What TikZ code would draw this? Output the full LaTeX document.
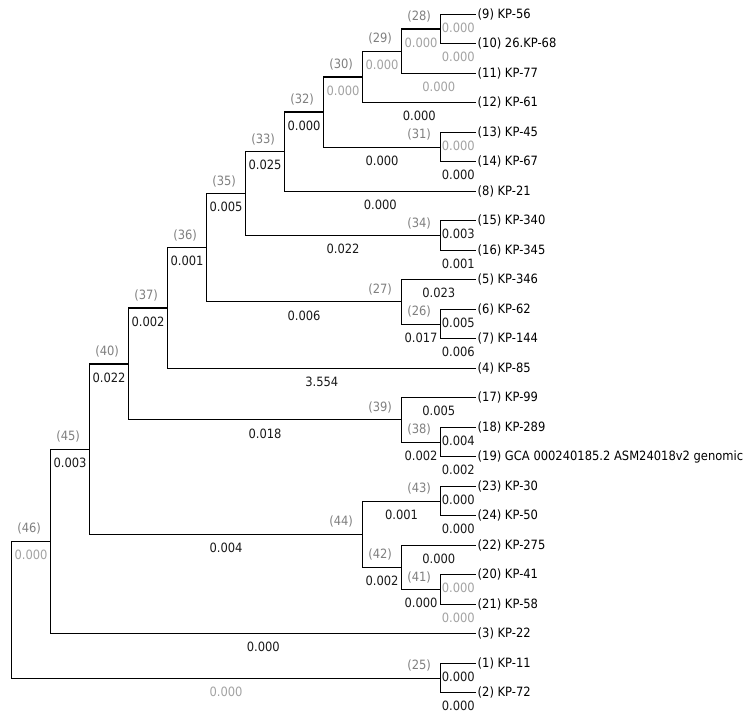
\documentclass[tikz,border=0pt]{standalone}
\usepackage{fontspec}
\setmainfont{DejaVu Sans}[FakeStretch=0.9]
\usepackage{tikz}

\definecolor{idGray}{HTML}{7F7F7F}
\definecolor{lenGray}{HTML}{A3A3A3}

\begin{document}
\begin{tikzpicture}[
	x=1pt, y=-1pt,
	font=\fontsize{12.8}{15}\selectfont
	]
\tikzset{
	branch/.style = { line width=1.1pt, draw=black },
	leaf/.style = { anchor=west, inner sep=1.5pt, text=black },
	blen/.style = { pos=0.75, yshift=-13.5pt, inner sep=0pt, text=black!90 },
	blenLight/.style = { blen, text=lenGray },
	idlab/.style = { anchor=east, xshift=-9pt, yshift=12.5pt, inner sep=0pt, text=idGray }
}
	\useasboundingbox (0,0) rectangle (749,717);

	% leaves
	\node (kp56) [leaf] at (476,14.3) {(9) KP-56};
	\node (kp68) [leaf] at (476,43.8) {(10) 26.KP-68};
	\node (kp77) [leaf] at (476,73.3) {(11) KP-77};
	\node (kp61) [leaf] at (476,102.8) {(12) KP-61};
	\node (kp45) [leaf] at (476,132.3) {(13) KP-45};
	\node (kp67) [leaf] at (476,161.8) {(14) KP-67};
	\node (kp21) [leaf] at (476,191.3) {(8) KP-21};
	\node (kp340) [leaf] at (476,220.8) {(15) KP-340};
	\node (kp345) [leaf] at (476,250.3) {(16) KP-345};
	\node (kp346) [leaf] at (476,279.8) {(5) KP-346};
	\node (kp62) [leaf] at (476,309.3) {(6) KP-62};
	\node (kp144) [leaf] at (476,338.8) {(7) KP-144};
	\node (kp85) [leaf] at (476,368.3) {(4) KP-85};
	\node (kp99) [leaf] at (476,397.8) {(17) KP-99};
	\node (kp289) [leaf] at (476,427.3) {(18) KP-289};
	\node (gca) [leaf] at (476,456.8) {(19) GCA 000240185.2 ASM24018v2 genomic};
	\node (kp30) [leaf] at (476,486.3) {(23) KP-30};
	\node (kp50) [leaf] at (476,515.8) {(24) KP-50};
	\node (kp275) [leaf] at (476,545.3) {(22) KP-275};
	\node (kp41) [leaf] at (476,574.8) {(20) KP-41};
	\node (kp58) [leaf] at (476,604.3) {(21) KP-58};
	\node (kp22) [leaf] at (476,633.8) {(3) KP-22};
	\node (kp11) [leaf] at (476,663.3) {(1) KP-11};
	\node (kp72) [leaf] at (476,692.8) {(2) KP-72};

	% inner nodes
	\coordinate (c28) at (440.5,29.05);
	\coordinate (c29) at (401.5,51.18);
	\coordinate (c30) at (362.5,76.99);
	\coordinate (c31) at (440.5,147.05);
	\coordinate (c32) at (323.5,112.02);
	\coordinate (c33) at (284.5,151.66);
	\coordinate (c34) at (440.5,235.55);
	\coordinate (c35) at (245.5,193.6);
	\coordinate (c26) at (440.5,324.05);
	\coordinate (c27) at (401.5,301.9);
	\coordinate (c36) at (206.5,247.75);
	\coordinate (c37) at (167.5,308.0);
	\coordinate (c38) at (440.5,442.05);
	\coordinate (c39) at (401.5,419.9);
	\coordinate (c40) at (128.5,363.95);
	\coordinate (c43) at (440.5,501.05);
	\coordinate (c41) at (440.5,589.55);
	\coordinate (c42) at (401.5,567.4);
	\coordinate (c44) at (362.5,534.2);
	\coordinate (c45) at (89.5,449.1);
	\coordinate (c46) at (50.5,541.45);
	\coordinate (c25) at (440.5,678.05);
	\coordinate (root) at (11.5,609.75);

	% upper clades
	\draw [branch] (c28) |- node[blenLight] {0.000} (kp56);
	\draw [branch] (c28) |- node[blenLight] {0.000} (kp68);
	\draw [branch] (c29) |- node[blenLight] {0.000} (c28) node[idlab] {(28)};
	\draw [branch] (c29) |- node[blenLight] {0.000} (kp77);
	\draw [branch] (c30) |- node[blenLight] {0.000} (c29) node[idlab] {(29)};
	\draw [branch] (c30) |- node[blen] {0.000} (kp61);
	\draw [branch] (c31) |- node[blenLight] {0.000} (kp45);
	\draw [branch] (c31) |- node[blen] {0.000} (kp67);
	\draw [branch] (c32) |- node[blenLight] {0.000} (c30) node[idlab] {(30)};
	\draw [branch] (c32) |- node[blen] {0.000} (c31) node[idlab] {(31)};
	\draw [branch] (c33) |- node[blen] {0.000} (c32) node[idlab] {(32)};
	\draw [branch] (c33) |- node[blen] {0.000} (kp21);
	\draw [branch] (c34) |- node[blen] {0.003} (kp340);
	\draw [branch] (c34) |- node[blen] {0.001} (kp345);
	\draw [branch] (c35) |- node[blen] {0.025} (c33) node[idlab] {(33)};
	\draw [branch] (c35) |- node[blen] {0.022} (c34) node[idlab] {(34)};
	\draw [branch] (c26) |- node[blen] {0.005} (kp62);
	\draw [branch] (c26) |- node[blen] {0.006} (kp144);
	\draw [branch] (c27) |- node[blen] {0.023} (kp346);
	\draw [branch] (c27) |- node[blen] {0.017} (c26) node[idlab] {(26)};
	\draw [branch] (c36) |- node[blen] {0.005} (c35) node[idlab] {(35)};
	\draw [branch] (c36) |- node[blen] {0.006} (c27) node[idlab] {(27)};
	\draw [branch] (c37) |- node[blen] {0.001} (c36) node[idlab] {(36)};
	\draw [branch] (c37) |- node[blen] {3.554} (kp85);

	% middle clades
	\draw [branch] (c38) |- node[blen] {0.004} (kp289);
	\draw [branch] (c38) |- node[blen] {0.002} (gca);
	\draw [branch] (c39) |- node[blen] {0.005} (kp99);
	\draw [branch] (c39) |- node[blen] {0.002} (c38) node[idlab] {(38)};
	\draw [branch] (c40) |- node[blen] {0.002} (c37) node[idlab] {(37)};
	\draw [branch] (c40) |- node[blen] {0.018} (c39) node[idlab] {(39)};
	\draw [branch] (c43) |- node[blen] {0.000} (kp30);
	\draw [branch] (c43) |- node[blen] {0.000} (kp50);
	\draw [branch] (c41) |- node[blenLight] {0.000} (kp41);
	\draw [branch] (c41) |- node[blenLight] {0.000} (kp58);
	\draw [branch] (c42) |- node[blen] {0.000} (kp275);
	\draw [branch] (c42) |- node[blen] {0.000} (c41) node[idlab] {(41)};
	\draw [branch] (c44) |- node[blen] {0.001} (c43) node[idlab] {(43)};
	\draw [branch] (c44) |- node[blen] {0.002} (c42) node[idlab] {(42)};
	\draw [branch] (c45) |- node[blen] {0.022} (c40) node[idlab] {(40)};
	\draw [branch] (c45) |- node[blen] {0.004} (c44) node[idlab] {(44)};

	% root side
	\draw [branch] (c46) |- node[blen] {0.003} (c45) node[idlab] {(45)};
	\draw [branch] (c46) |- node[blen] {0.000} (kp22);
	\draw [branch] (c25) |- node[blen] {0.000} (kp11);
	\draw [branch] (c25) |- node[blen] {0.000} (kp72);
	\draw [branch] (root) |- node[blenLight] {0.000} (c46) node[idlab] {(46)};
	\draw [branch] (root) |- node[blenLight] {0.000} (c25) node[idlab] {(25)};

\end{tikzpicture}
\end{document}
